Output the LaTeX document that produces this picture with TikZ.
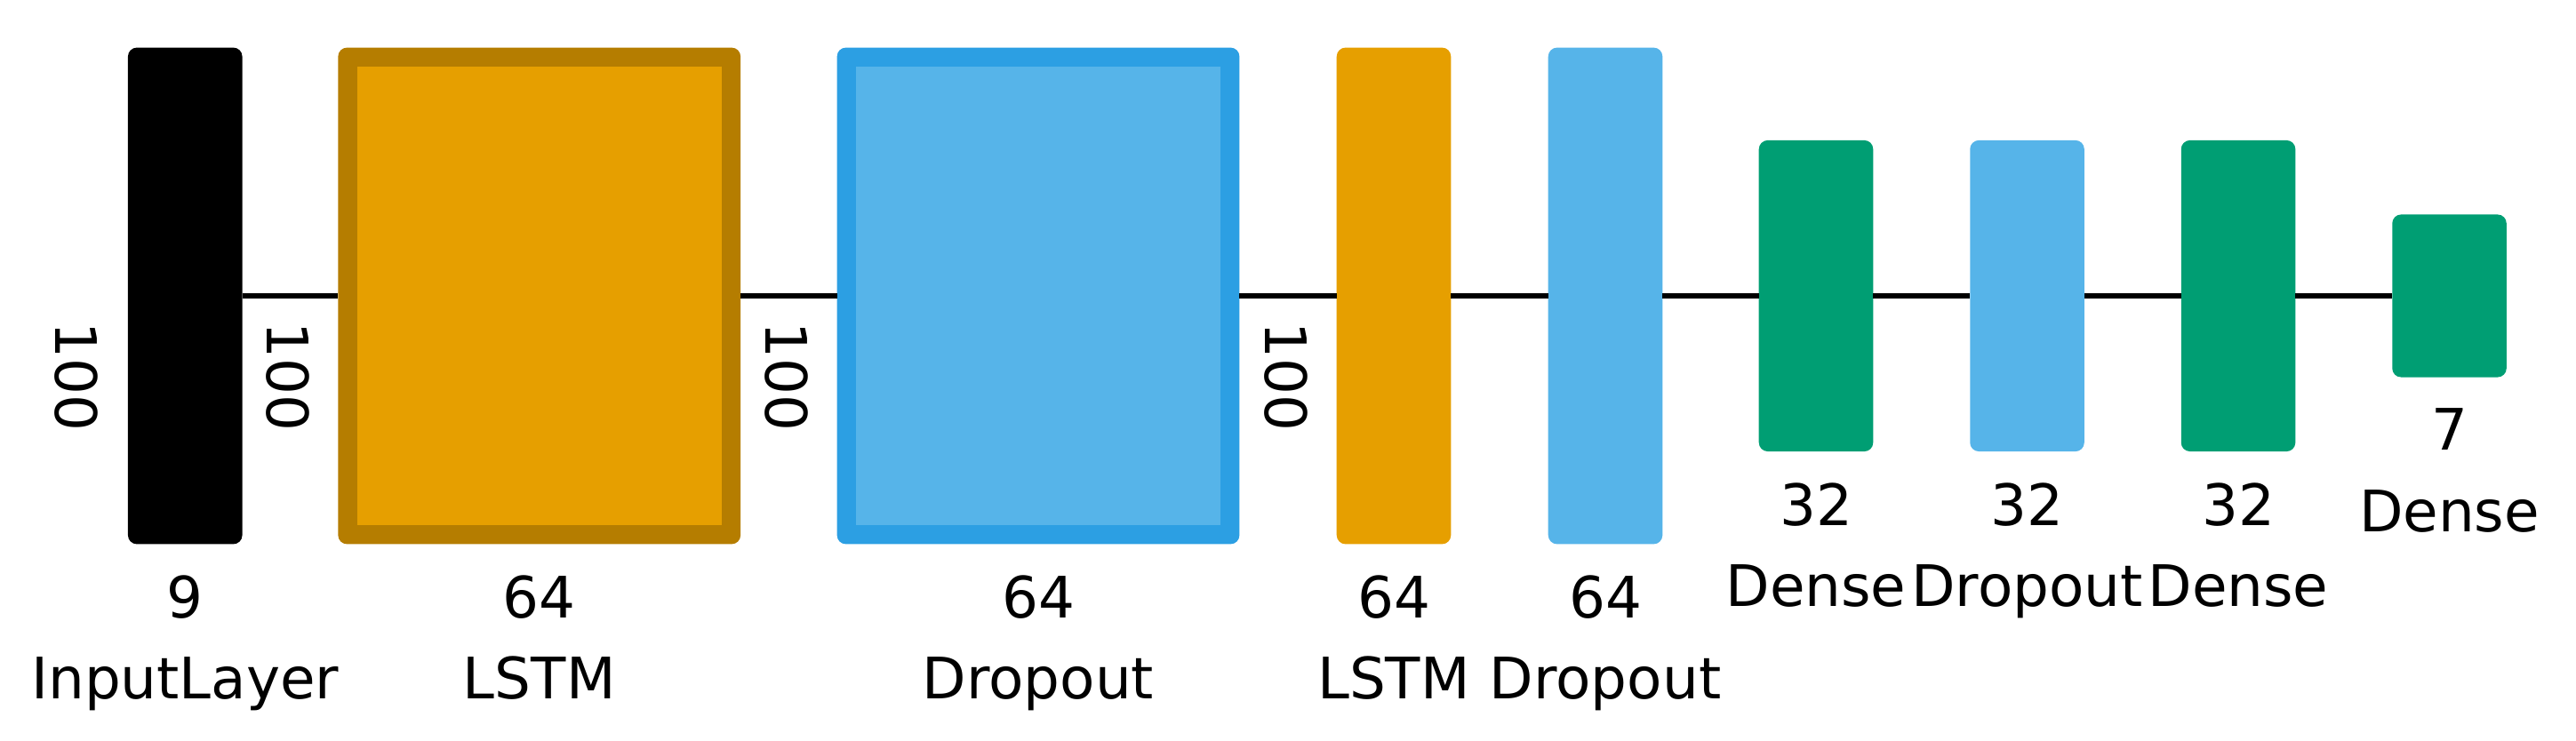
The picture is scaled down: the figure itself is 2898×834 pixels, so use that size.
\documentclass[tikz,border=0pt]{standalone}
\usepackage{fontspec}
\setmainfont{DejaVu Sans}
\definecolor{lstmfill}{HTML}{E69F00}
\definecolor{lstmborder}{HTML}{B57D00}
\definecolor{dropfill}{HTML}{56B4E9}
\definecolor{dropborder}{HTML}{2C9FE3}
\definecolor{densefill}{HTML}{009E73}
\begin{document}
\begin{tikzpicture}[x=0.01cm,y=-0.01cm,
  lyr/.style={rectangle, inner sep=0pt, outer sep=0pt, rounded corners=0.1cm, draw=none},
  innerbox/.style={rectangle, inner sep=0pt, outer sep=0pt, draw=none},
  bigh/.style={minimum height=5.585cm},
  denseh/.style={minimum height=3.5cm},
  lasth/.style={minimum height=1.83cm},
  narrow/.style={minimum width=1.285cm},
  wide/.style={minimum width=4.525cm},
  lbl/.style={inner sep=0pt, outer sep=0pt, font=\fontsize{18.3pt}{22pt}\selectfont, text=black},
  conn/.style={draw=black, line width=0.052cm}
]
\useasboundingbox (0,0) rectangle (2898,834);

% layers
\node[lyr, narrow, bigh, fill=black] (in) at (208.25,333) {};
\node[lyr, wide, bigh, fill=lstmborder] (l1) at (606.75,333) {};
\node[innerbox, fill=lstmfill, minimum width=4.095cm, minimum height=5.155cm] (l1i) at (l1.center) {};
\node[lyr, wide, bigh, fill=dropborder] (d1) at (1168,333) {};
\node[innerbox, fill=dropfill, minimum width=4.095cm, minimum height=5.155cm] (d1i) at (d1.center) {};
\node[lyr, narrow, bigh, fill=lstmfill] (l2) at (1568,333) {};
\node[lyr, narrow, bigh, fill=dropfill] (d2) at (1806,333) {};
\node[lyr, narrow, denseh, fill=densefill] (e1) at (2043,333) {};
\node[lyr, narrow, denseh, fill=dropfill] (d3) at (2280.5,333) {};
\node[lyr, narrow, denseh, fill=densefill] (e2) at (2518,333) {};
\node[lyr, narrow, lasth, fill=densefill] (e3) at (2755.5,333) {};

% connectors
\draw[conn] (in.east) -- (l1.west);
\draw[conn] (l1.east) -- (d1.west);
\draw[conn] (d1.east) -- (l2.west);
\draw[conn] (l2.east) -- (d2.west);
\draw[conn] (d2.east) -- (e1.west);
\draw[conn] (e1.east) -- (d3.west);
\draw[conn] (d3.east) -- (e2.west);
\draw[conn] (e2.east) -- (e3.west);

% sequence-length labels
\node[lbl, rotate=-90] (s0) at (86,424) {100};
\node[lbl, rotate=-90] (s1) at (324,424) {100};
\node[lbl, rotate=-90] (s2) at (885,424) {100};
\node[lbl, rotate=-90] (s3) at (1447,424) {100};

% size labels
\node[lbl, anchor=base] (n1) at (208.25,695) {9};
\node[lbl, anchor=base] (n2) at (606.75,695) {64};
\node[lbl, anchor=base] (n3) at (1168,695) {64};
\node[lbl, anchor=base] (n4) at (1568,695) {64};
\node[lbl, anchor=base] (n5) at (1806,695) {64};
\node[lbl, anchor=base] (n6) at (2043,591) {32};
\node[lbl, anchor=base] (n7) at (2280.5,591) {32};
\node[lbl, anchor=base] (n8) at (2518,591) {32};
\node[lbl, anchor=base] (n9) at (2755.5,507) {7};

% name labels
\node[lbl, anchor=base] (t1) at (208.25,786) {InputLayer};
\node[lbl, anchor=base] (t2) at (606.75,786) {LSTM};
\node[lbl, anchor=base] (t3) at (1168,786) {Dropout};
\node[lbl, anchor=base] (t4) at (1568,786) {LSTM};
\node[lbl, anchor=base] (t5) at (1806,786) {Dropout};
\node[lbl, anchor=base] (t6) at (2043,682) {Dense};
\node[lbl, anchor=base] (t7) at (2280.5,682) {Dropout};
\node[lbl, anchor=base] (t8) at (2518,682) {Dense};
\node[lbl, anchor=base] (t9) at (2755.5,598) {Dense};
\end{tikzpicture}
\end{document}
